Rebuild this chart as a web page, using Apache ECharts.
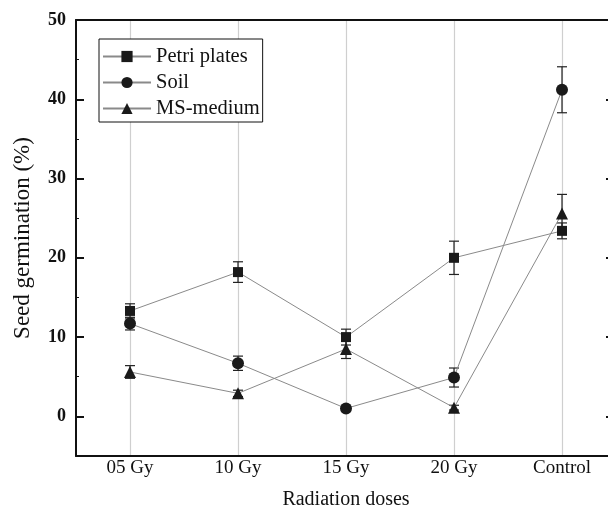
<!DOCTYPE html>
<html><head><meta charset="utf-8">
<script src="https://cdn.jsdelivr.net/npm/echarts@6/dist/echarts.min.js"></script>
<style>html,body{margin:0;padding:0;background:#fff}#c{width:608px;height:509px}</style>
</head><body><div id="c"></div>
<script>
const categories = ['05 Gy', '10 Gy', '15 Gy', '20 Gy', 'Control'];
const petri = [13.3, 18.2, 10.0, 20.0, 23.4];
const petriErr = [0.9, 1.3, 1.0, 2.1, 1.0];
const soil = [11.7, 6.7, 1.0, 4.9, 41.2];
const soilErr = [0.8, 0.9, 0.2, 1.2, 2.9];
const ms = [5.6, 2.9, 8.5, 1.1, 25.6];
const msErr = [0.8, 0.4, 1.2, 0.3, 2.4];
const yTicks = [0, 10, 20, 30, 40, 50];
const yMinorTicks = [5, 15, 25, 35, 45];

const FF = 'Liberation Serif';
const AX = '#111';
const chart = echarts.init(document.getElementById('c'), null, {renderer: 'canvas'});

function errSeries(vals, errs, name) {
  return {
    type: 'custom', name: name + ' err', xAxisIndex: 0, yAxisIndex: 0, z: 2, silent: true,
    data: vals.map((v, i) => [i, v - errs[i], v + errs[i]]),
    renderItem(params, api) {
      const lo = api.coord([api.value(0), api.value(1)]);
      const hi = api.coord([api.value(0), api.value(2)]);
      const w = 5;
      const st = {stroke: '#222', lineWidth: 1.2};
      return {type: 'group', children: [
        {type: 'line', shape: {x1: lo[0], y1: lo[1], x2: hi[0], y2: hi[1]}, style: st},
        {type: 'line', shape: {x1: lo[0] - w, y1: lo[1], x2: lo[0] + w, y2: lo[1]}, style: st},
        {type: 'line', shape: {x1: hi[0] - w, y1: hi[1], x2: hi[0] + w, y2: hi[1]}, style: st}
      ]};
    }
  };
}
function lineSeries(name, vals, symbol, size) {
  return {
    type: 'line', name, data: vals, xAxisIndex: 0, yAxisIndex: 0, z: 3,
    symbol, symbolSize: size, showAllSymbol: true,
    lineStyle: {color: '#8a8a8a', width: 1},
    itemStyle: {color: '#1a1a1a', opacity: 1}
  };
}
const baseX = {type: 'category', data: categories, boundaryGap: true};
chart.setOption({
  animation: false,
  backgroundColor: '#fff',
  grid: {left: 76, top: 20, right: -8, bottom: 53, containLabel: false, outerBoundsMode: 'none'},
  legend: {
    data: ['Petri plates', 'Soil', 'MS-medium'],
    orient: 'vertical', left: 99, top: 39,
    itemWidth: 48, itemHeight: 14, itemGap: 5,
    padding: [7, 3, 3, 3],
    borderColor: '#111', borderWidth: 1, backgroundColor: '#fff',
    textStyle: {fontFamily: FF, fontSize: 20.5, lineHeight: 20, color: '#111'}
  },
  xAxis: [
    Object.assign({}, baseX, {
      position: 'bottom',
      axisLine: {onZero: false, lineStyle: {color: AX, width: 2}},
      axisTick: {inside: true, alignWithLabel: true, length: 8, lineStyle: {color: AX, width: 2}},
      axisLabel: {fontFamily: FF, fontSize: 19, color: '#111', margin: 3},
      splitLine: {show: true, alignWithLabel: true, lineStyle: {color: '#cfcfcf', width: 1.2}},
      name: 'Radiation doses', nameLocation: 'middle', nameGap: 34,
      nameTextStyle: {fontFamily: FF, fontSize: 20, color: '#111'}
    }),
    Object.assign({}, baseX, {
      position: 'bottom',
      axisLine: {show: false, onZero: false},
      axisTick: {inside: true, length: 3, lineStyle: {color: '#555', width: 1}},
      axisLabel: {show: false}, splitLine: {show: false}
    }),
    Object.assign({}, baseX, {
      position: 'top',
      axisLine: {onZero: false, lineStyle: {color: AX, width: 2}},
      axisTick: {inside: true, alignWithLabel: true, length: 8, lineStyle: {color: AX, width: 2}},
      axisLabel: {show: false}, splitLine: {show: false}
    }),
    Object.assign({}, baseX, {
      position: 'top',
      axisLine: {show: false, onZero: false},
      axisTick: {inside: true, length: 3, lineStyle: {color: '#aaa', width: 1}},
      axisLabel: {show: false}, splitLine: {show: false}
    })
  ],
  yAxis: [
    {
      type: 'value', min: -5, max: 50, position: 'left',
      axisLine: {show: true, onZero: false, lineStyle: {color: AX, width: 2}},
      axisTick: {show: true, inside: true, length: 8, customValues: yTicks, lineStyle: {color: AX, width: 2}},
      axisLabel: {customValues: yTicks, fontFamily: FF, fontWeight: 'bold', fontSize: 18, color: '#111', margin: 10},
      splitLine: {show: false},
      name: 'Seed germination (%)', nameLocation: 'middle', nameGap: 42,
      nameTextStyle: {fontFamily: FF, fontSize: 23, color: '#111'}
    },
    {
      type: 'value', min: -5, max: 50, position: 'left',
      axisLine: {show: false, onZero: false},
      axisTick: {show: true, inside: true, length: 3, customValues: yMinorTicks, lineStyle: {color: AX, width: 1}},
      axisLabel: {show: false}, splitLine: {show: false}
    },
    {
      type: 'value', min: -5, max: 50, position: 'right',
      axisLine: {show: true, onZero: false, lineStyle: {color: AX, width: 2}},
      axisTick: {show: true, inside: true, length: 10, customValues: yTicks, lineStyle: {color: AX, width: 2}},
      axisLabel: {show: false}, splitLine: {show: false}
    }
  ],
  series: [
    errSeries(petri, petriErr, 'Petri plates'),
    errSeries(soil, soilErr, 'Soil'),
    errSeries(ms, msErr, 'MS-medium'),
    lineSeries('Petri plates', petri, 'rect', 10),
    lineSeries('Soil', soil, 'circle', 12),
    lineSeries('MS-medium', ms, 'triangle', 12)
  ]
});
</script></body></html>
